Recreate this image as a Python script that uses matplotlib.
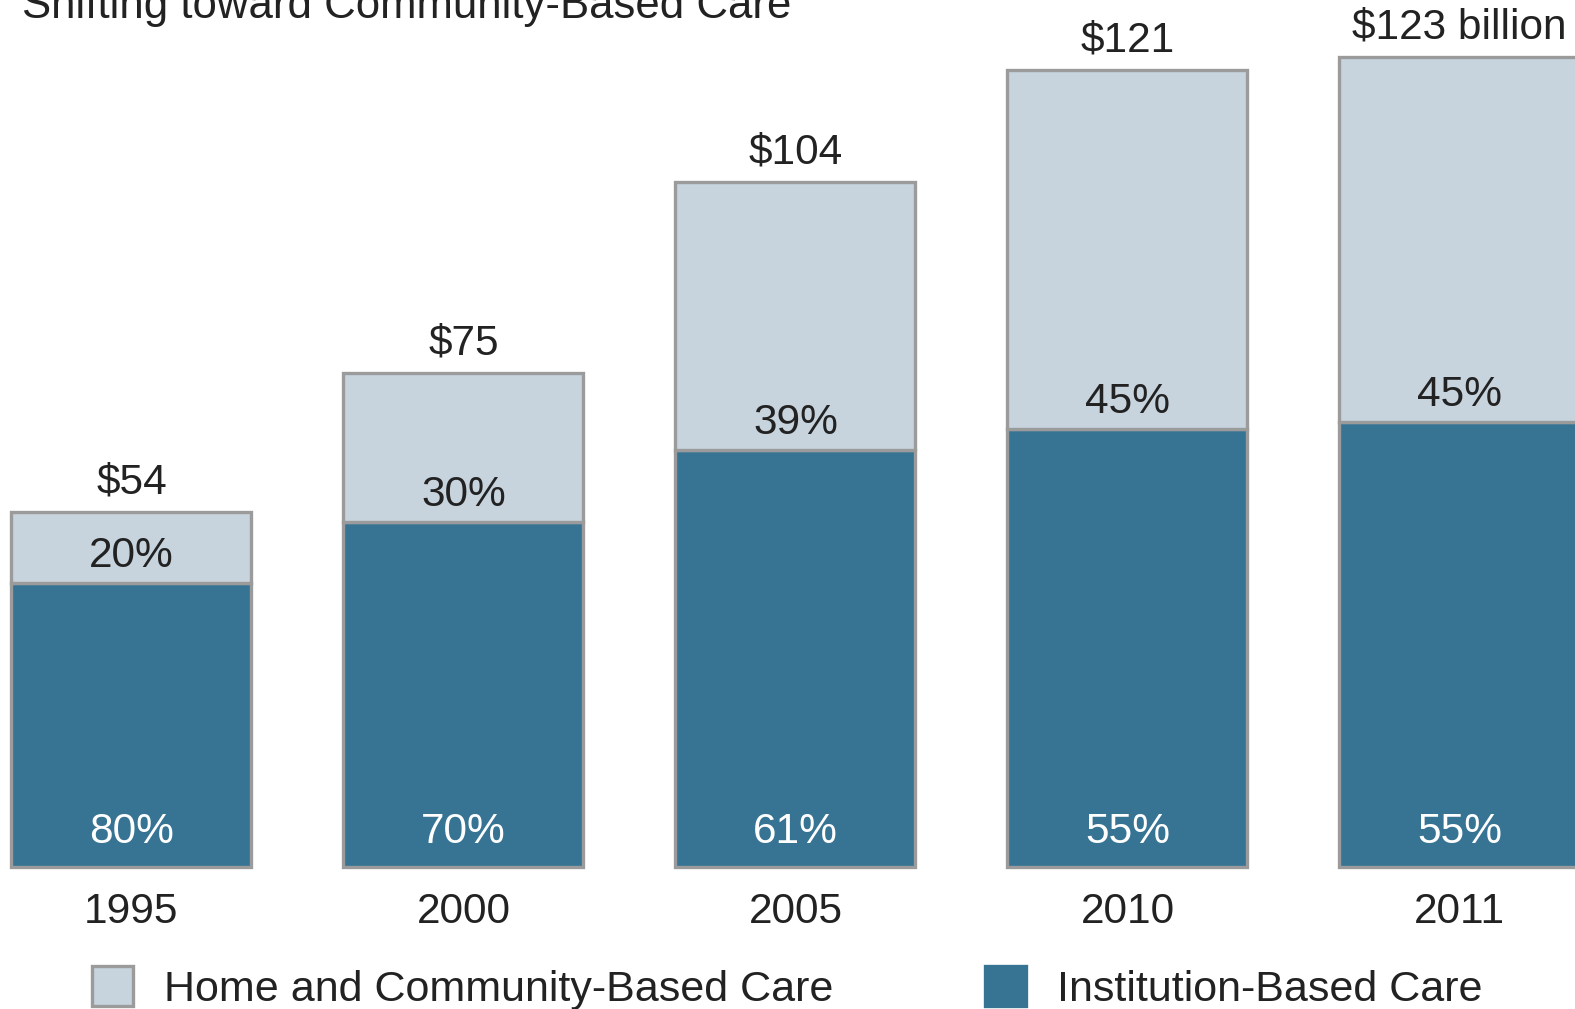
import numpy as np
import matplotlib
matplotlib.use('Agg')
import matplotlib.pyplot as plt
from matplotlib.patches import Rectangle

# datos
years = ['1995', '2000', '2005', '2010', '2011']
totals = [54, 75, 104, 121, 123]
home_pct = [20, 30, 39, 45, 45]
inst_pct = [80, 70, 61, 55, 55]
total_labels = ['$54', '$75', '$104', '$121', '$123 billion']
title = 'Shifting toward Community-Based Care'
legend_labels = ['Home and Community-Based Care', 'Institution-Based Care']

c_home = '#c7d3dd'
c_inst = '#377494'
c_edge = '#9b9b9b'
c_text = '#222222'

plt.rcParams['font.family'] = ['Liberation Sans', 'DejaVu Sans']

fig = plt.figure(figsize=(15.75, 10.09), dpi=100)
ax = fig.add_axes([0, 0, 1, 1])

x = np.arange(len(years))
totals = np.array(totals, dtype=float)
inst = totals * np.array(inst_pct) / 100
home = totals - inst

w = 0.723
ax.bar(x, inst, width=w, color=c_inst, edgecolor=c_edge, linewidth=2.4, zorder=2)
ax.bar(x, home, width=w, bottom=inst, color=c_home, edgecolor=c_edge, linewidth=2.4, zorder=2)

fs = 30.5
for i in range(len(years)):
    ax.text(x[i], totals[i] + 4.5, total_labels[i], ha='center', va='center',
            fontsize=fs, color=c_text)
    ax.text(x[i], inst[i] + 4.1, f'{home_pct[i]}%', ha='center', va='center',
            fontsize=fs, color=c_text)
    ax.text(x[i], 5.3, f'{inst_pct[i]}%', ha='center', va='center',
            fontsize=fs, color='white')
    ax.text(x[i], -6.7, years[i], ha='center', va='center',
            fontsize=fs, color=c_text)

ax.set_xlim(-0.396, 4.348)
ax.set_ylim(-21.5, 131.7)
ax.axis('off')

# titulo (cortado arriba como en la imagen)
fig.text(0.014, 0.982, title, ha='left', va='baseline', fontsize=fs + 1, color=c_text)

# leyenda manual
sq_w = 40 / 1568
sq_h = 40 / 1005
for px, col, lab, tx in [(92, c_home, legend_labels[0], 163), (981, c_inst, legend_labels[1], 1052)]:
    fig.patches.append(Rectangle((px / 1568, 1 - 1002 / 1005), sq_w, sq_h,
                                 transform=fig.transFigure, facecolor=col,
                                 edgecolor=c_edge if col == c_home else col,
                                 linewidth=2.4))
    fig.text(tx / 1568, 1 - 986 / 1005, lab, ha='left', va='center',
             fontsize=fs + 0.5, color=c_text)

fig.savefig('out.png', dpi=100)
